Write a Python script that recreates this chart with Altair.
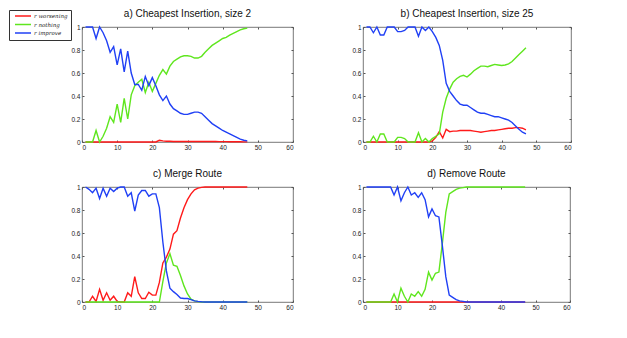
import altair as alt
import pandas as pd

x_vals = list(range(1, 48))
series_names = ["r worsening", "r nothing", "r improve"]
series_colors = ["#ff1a1a", "#5fe61e", "#2040f5"]
panel_keys = ["a", "b", "c", "d"]
panel_titles = ["a) Cheapest Insertion, size 2", "b) Cheapest Insertion, size 25",
                "c) Merge Route", "d) Remove Route"]
x_ticks = [0, 10, 20, 30, 40, 50, 60]
y_ticks = [0, 0.2, 0.4, 0.6, 0.8, 1]

a_worsening = [0]*21 + [0.015, 0.01, 0.007, 0.006, 0.005, 0.005, 0.004, 0.004, 0.004, 0.004,
                        0.005, 0.005, 0.005, 0.005, 0.004, 0.004, 0.004, 0.003, 0.003, 0.003,
                        0.002, 0.002, 0.002, 0.002, 0.001, 0.001]
a_nothing = [0, 0, 0, 0.1, 0, 0.05, 0.12, 0.22, 0.17, 0.33,
             0.17, 0.38, 0.2, 0.41, 0.49, 0.52, 0.545, 0.43, 0.52, 0.44,
             0.51, 0.58, 0.63, 0.59, 0.66, 0.70, 0.72, 0.74, 0.75, 0.75,
             0.745, 0.73, 0.73, 0.745, 0.78, 0.81, 0.84, 0.86, 0.88, 0.90,
             0.91, 0.93, 0.945, 0.96, 0.975, 0.985, 0.99]
a_improve = [1, 1, 1, 0.9, 1.0, 0.95, 0.88, 0.78, 0.83, 0.67,
             0.81, 0.61, 0.79, 0.6, 0.5, 0.5, 0.45, 0.57, 0.49, 0.56,
             0.49, 0.41, 0.36, 0.40, 0.33, 0.29, 0.27, 0.25, 0.24, 0.24,
             0.25, 0.26, 0.26, 0.25, 0.22, 0.19, 0.16, 0.14, 0.12, 0.10,
             0.085, 0.07, 0.055, 0.04, 0.025, 0.015, 0.01]

b_worsening = [0]*19 + [0.01, 0.04, 0.09, 0.035, 0.11, 0.09, 0.095, 0.095, 0.1, 0.1, 0.1,
                        0.1, 0.095, 0.09, 0.085, 0.09, 0.095, 0.1, 0.1, 0.105, 0.11,
                        0.115, 0.12, 0.12, 0.125, 0.125, 0.12, 0.105]
b_nothing = [0, 0, 0.05, 0, 0.07, 0.07, 0, 0, 0, 0.04,
             0.04, 0.03, 0, 0, 0, 0.08, 0, 0.03, 0, 0.03,
             0.05, 0.07, 0.26, 0.38, 0.46, 0.52, 0.55, 0.57, 0.58, 0.565,
             0.59, 0.62, 0.64, 0.66, 0.66, 0.655, 0.665, 0.675, 0.67, 0.665,
             0.67, 0.68, 0.70, 0.73, 0.76, 0.79, 0.82]
b_improve = [1, 1, 0.95, 1.0, 0.93, 0.93, 1, 1, 1, 0.96,
             0.96, 0.97, 1, 1, 1, 0.92, 1, 0.97, 1, 0.96,
             0.91, 0.84, 0.71, 0.51, 0.44, 0.40, 0.36, 0.33, 0.32, 0.32,
             0.30, 0.28, 0.26, 0.25, 0.25, 0.24, 0.23, 0.22, 0.22, 0.21,
             0.20, 0.19, 0.17, 0.14, 0.11, 0.085, 0.07]

c_worsening = [0, 0, 0.05, 0.005, 0.11, 0.015, 0.08, 0.015, 0.05, 0.005,
               0, 0, 0.08, 0.05, 0.22, 0.08, 0.03, 0.03, 0.085, 0.06,
               0.06, 0.17, 0.34, 0.39, 0.46, 0.59, 0.62, 0.73, 0.82, 0.89,
               0.94, 0.975, 0.99, 0.997, 1, 1, 1, 1, 1, 1,
               1, 1, 1, 1, 1, 1, 1]
c_nothing = [0]*22 + [0.18, 0.34, 0.42, 0.32, 0.31, 0.23, 0.14, 0.07, 0.025, 0.01, 0.003] + [0]*14
c_improve = [1, 0.98, 0.95, 0.99, 0.9, 0.99, 0.92, 0.99, 0.96, 0.99,
             1, 1, 0.92, 0.95, 0.79, 0.93, 0.97, 0.97, 0.92, 0.94,
             0.94, 0.82, 0.52, 0.27, 0.12, 0.09, 0.065, 0.035, 0.03, 0.03,
             0.02, 0.01, 0.005, 0.002, 0, 0, 0, 0, 0, 0,
             0, 0, 0, 0, 0, 0, 0]

d_worsening = [0]*47
d_nothing = [0, 0, 0, 0, 0, 0, 0, 0, 0.07, 0,
             0.12, 0.05, 0, 0.07, 0.05, 0.09, 0.05, 0.11, 0.26, 0.19,
             0.25, 0.26, 0.51, 0.78, 0.94, 0.96, 0.98, 0.99, 0.995, 1] + [1]*17
d_improve = [1, 1, 1, 1, 1, 1, 1, 1, 0.93, 1.0,
             0.88, 0.95, 1.0, 0.93, 0.95, 0.91, 0.95, 0.89, 0.74, 0.81,
             0.75, 0.74, 0.49, 0.22, 0.06, 0.04, 0.02, 0.01, 0.005, 0] + [0]*17

data = {
    "a": [a_worsening, a_nothing, a_improve],
    "b": [b_worsening, b_nothing, b_improve],
    "c": [c_worsening, c_nothing, c_improve],
    "d": [d_worsening, d_nothing, d_improve],
}

rows = []
for key in panel_keys:
    for name, vals in zip(series_names, data[key]):
        for xv, v in zip(x_vals, vals):
            rows.append({"panel": key, "series": name, "x": xv, "v": v})
df = pd.DataFrame(rows)

leg = alt.Legend(orient="none", legendX=-73, legendY=-17, title=None,
                 symbolType="M0,0H8", symbolStrokeWidth=1.5, symbolSize=16,
                 labelFontSize=5.5, labelFont="DejaVu Serif", labelFontStyle="italic",
                 labelColor="#222",
                 strokeColor="#333", fillColor="white", padding=3, rowPadding=1.5,
                 labelOffset=16, cornerRadius=0)

xs = alt.Scale(domain=[0, 60], nice=False)
ys = alt.Scale(domain=[0, 1], nice=False)


def panel(key, title, w):
    base = alt.Chart(df).transform_filter(alt.datum.panel == key)
    color = alt.Color("series:N", scale=alt.Scale(domain=series_names, range=series_colors), legend=leg)
    layers = []
    for i, s in enumerate(series_names):
        if i == 0:
            xa = alt.Axis(values=x_ticks, format="d", offset=-2, tickSize=2, domain=False,
                          labelPadding=2, grid=False, title=None)
            ya = alt.Axis(values=y_ticks, format="~g", offset=-2, tickSize=2, domain=False,
                          labelPadding=2, grid=False, title=None)
        else:
            xa = None
            ya = None
        layers.append(
            base.transform_filter(alt.datum.series == s).mark_line(strokeWidth=1.4).encode(
                x=alt.X("x:Q", scale=xs, axis=xa),
                y=alt.Y("v:Q", scale=ys, axis=ya),
                color=color,
            )
        )
    frame = base.mark_line(opacity=0).encode(
        x=alt.X("x:Q", scale=xs, axis=alt.Axis(orient="top", values=x_ticks, labels=False, offset=-2,
                                                tickSize=2, domain=False, grid=False, title=None)),
        y=alt.Y("v:Q", scale=ys, axis=alt.Axis(orient="right", values=y_ticks, labels=False, offset=-2,
                                                tickSize=2, domain=False, grid=False, title=None)),
    )
    return alt.layer(*layers, frame).resolve_axis(x="independent", y="independent").properties(
        width=w, height=115, title=alt.Title(title)
    )


pa = panel("a", panel_titles[0], 211)
pb = panel("b", panel_titles[1], 208)
pc = panel("c", panel_titles[2], 211)
pd_ = panel("d", panel_titles[3], 207)

chart = alt.vconcat(
    alt.hconcat(pa, pb, spacing=57),
    alt.hconcat(pc, pd_, spacing=57),
    spacing=17,
).configure_view(stroke="#555", strokeWidth=0.8).configure_axis(
    labelFontSize=6.5, labelFont="Liberation Sans", labelColor="#222", tickColor="#555"
).configure_title(fontSize=10, font="Liberation Sans", fontWeight="normal", offset=5, color="#111").properties(
    padding=0
)

chart.save("out.html", embed_options={"renderer": "svg", "actions": False})
